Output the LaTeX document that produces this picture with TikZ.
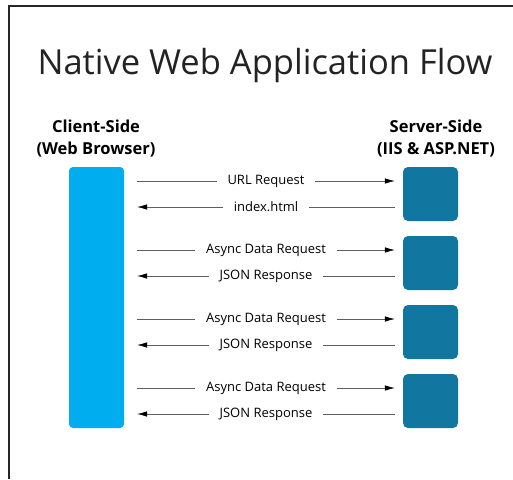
\documentclass[tikz,border=0pt]{standalone}
\usepackage{fontspec}
\setmainfont{Open Sans}
\usetikzlibrary{arrows.meta, positioning, calc}
\definecolor{clientcyan}{RGB}{0, 174, 239}
\definecolor{serverblue}{RGB}{17, 118, 160}
\definecolor{linegray}{RGB}{95, 95, 95}
\definecolor{titlegray}{RGB}{35, 35, 35}

\begin{document}
\begin{tikzpicture}[
    x=1pt, y=-1pt,
    sidelabel/.style={align=center, font=\bfseries\fontsize{16.5}{22}\selectfont},
    clientbar/.style={fill=clientcyan, rounded corners=4pt, inner sep=0pt,
        minimum width=55pt, minimum height=261pt},
    serverbox/.style={fill=serverblue, rounded corners=5pt, inner sep=0pt,
        minimum width=55pt, minimum height=54pt},
    msg/.style={draw=linegray, line width=0.6pt, -{Latex[black, length=10pt, width=5.5pt]}},
    msglabel/.style={fill=white, inner xsep=11pt, inner ysep=1pt,
        font=\fontsize{13}{15}\selectfont}
]
    \useasboundingbox (0,0) rectangle (513,479);
    \draw[line width=1.2pt, black!85] (513,6) -- (9,6) -- (9,479);

    \node[anchor=base, text=titlegray, font=\fontsize{34.5}{40}\selectfont] (title) at (265,74)
        {Native Web Application Flow};
    \node[sidelabel] (clientlabel) at (96,139) {Client-Side\\(Web Browser)};
    \node[sidelabel] (serverlabel) at (436,139) {Server-Side\\(IIS \& ASP.NET)};

    \node[clientbar] (client) at (96.5,297.5) {};
    \node[serverbox] (srvA) at (430.5,194) {};
    \node[serverbox] (srvB) at (430.5,263) {};
    \node[serverbox] (srvC) at (430.5,332) {};
    \node[serverbox] (srvD) at (430.5,401) {};

    % requests and responses
    \draw[msg] ($(client.east |- srvA)+(13,-13)$) -- ($(srvA.west)+(-8,-13)$)
        node[midway, msglabel] {URL Request};
    \draw[msg] ($(srvA.west)+(-8,13)$) -- ($(client.east |- srvA)+(13,13)$)
        node[midway, msglabel] {index.html};
    \draw[msg] ($(client.east |- srvB)+(13,-13)$) -- ($(srvB.west)+(-8,-13)$)
        node[midway, msglabel] {Async Data Request};
    \draw[msg] ($(srvB.west)+(-8,13)$) -- ($(client.east |- srvB)+(13,13)$)
        node[midway, msglabel] {JSON Response};
    \draw[msg] ($(client.east |- srvC)+(13,-13)$) -- ($(srvC.west)+(-8,-13)$)
        node[midway, msglabel] {Async Data Request};
    \draw[msg] ($(srvC.west)+(-8,13)$) -- ($(client.east |- srvC)+(13,13)$)
        node[midway, msglabel] {JSON Response};
    \draw[msg] ($(client.east |- srvD)+(13,-13)$) -- ($(srvD.west)+(-8,-13)$)
        node[midway, msglabel] {Async Data Request};
    \draw[msg] ($(srvD.west)+(-8,13)$) -- ($(client.east |- srvD)+(13,13)$)
        node[midway, msglabel] {JSON Response};
\end{tikzpicture}
\end{document}
